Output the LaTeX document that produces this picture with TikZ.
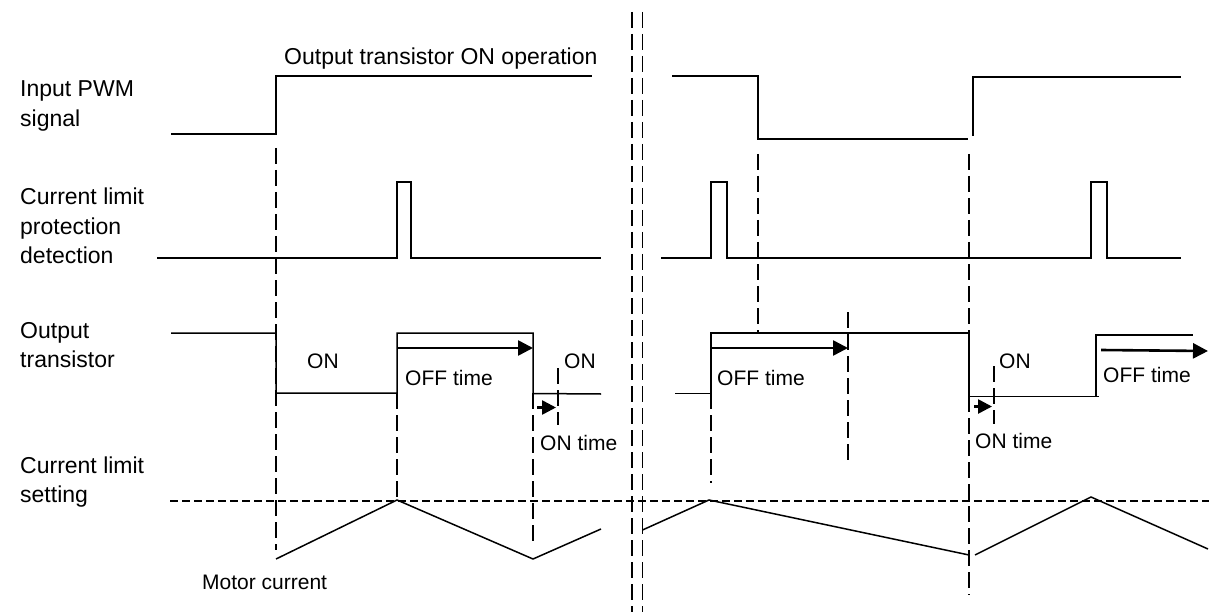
\documentclass[tikz,border=0pt]{standalone}
\usepackage{fontspec}
\setmainfont{Liberation Sans}
\usepackage{tikz}
\usetikzlibrary{arrows.meta}
\tikzset{
  sigline/.style={line width=1.5pt},
  guideline/.style={line width=1.5pt,dash pattern=on 16pt off 6pt},
  limitline/.style={line width=1.4pt,dash pattern=on 8pt off 4pt},
  timearrow/.style={line width=2.6pt,-{Triangle[length=15pt,width=15pt]}},
  shortarrow/.style={line width=2.6pt,-{Triangle[length=14pt,width=14pt]}},
  biglabel/.style={anchor=west,inner sep=0pt,align=left,font=\fontsize{23}{29.5}\selectfont},
  smalllabel/.style={anchor=west,inner sep=0pt,font=\fontsize{21}{25}\selectfont}
}
\begin{document}
\begin{tikzpicture}[x=1pt,y=1pt,yscale=-1,xscale=1]
	\useasboundingbox (0,0) rectangle (1209,612);

	%Break Lines
	\draw [guideline] (632,12) -- (632,612) ;
	\draw [guideline] (642.5,12) -- (642.5,612) ;

	%Input PWM signal
	\draw [sigline] (171,134) -- (276,134) -- (276,76) -- (592,76) ;
	\draw [sigline] (672,76) -- (758,76) -- (758,139) -- (968,139) ;
	\draw [sigline] (973,136) -- (973,77) -- (1181,77) ;

	%Current limit protection detection
	\draw [sigline] (157,258) -- (397,258) -- (397,182) -- (411,182) -- (411,258) -- (601,258) ;
	\draw [sigline] (661,258) -- (711,258) -- (711,182) -- (727,182) -- (727,258) -- (1091,258) -- (1091,182) -- (1107,182) -- (1107,258) -- (1181,258) ;

	%Output transistor
	\draw [sigline] (171,333) -- (276,333) -- (276,393) -- (397,393) -- (397,333) -- (533,333) -- (533,393.5) -- (601,394) ;
	\draw [sigline] (675,393.5) -- (711,393.5) -- (711,333) -- (969,333) -- (969,396.5) -- (1099,396.5) ;
	\draw [sigline] (1096,396.5) -- (1096,335) -- (1193,335) ;

	%Time Arrows
	\draw [timearrow] (397,348) -- (533,348) ;
	\draw [shortarrow] (537,407.5) -- (556,407.5) ;
	\draw [timearrow] (711,348) -- (848,348) ;
	\draw [shortarrow] (974,406.5) -- (992,406.5) ;
	\draw [timearrow] (1101,350) -- (1208,351) ;

	%Guide Lines
	\draw [guideline] (276,148) -- (276,550) ;
	\draw [guideline] (397,393) -- (397,500) ;
	\draw [guideline] (533,393) -- (533,542) ;
	\draw [guideline] (558,368) -- (558,425) ;
	\draw [guideline] (758,154) -- (758,333) ;
	\draw [guideline] (711,393) -- (711,483) ;
	\draw [guideline] (848,312) -- (848,460) ;
	\draw [guideline] (969,154) -- (969,595) ;
	\draw [guideline] (994,366) -- (994,424) ;

	%Current limit level
	\draw [limitline] (170,501) -- (1209,501) ;

	%Motor current
	\draw [sigline] (276,559) -- (397,500) -- (533,559) -- (601,529) ;
	\draw [sigline] (642.5,530) -- (709,500) -- (969,555) ;
	\draw [sigline] (975,555) -- (1091,497) -- (1208,549) ;

	% Text Node
	\draw (284,59) node (topnote) [biglabel] {Output transistor ON operation};
	% Text Node
	\draw (20,106) node (inputlabel) [biglabel] {Input PWM\\signal};
	% Text Node
	\draw (20,226) node (detectlabel) [biglabel] {Current limit\\protection\\detection};
	% Text Node
	\draw (20,345) node (outputlabel) [biglabel] {Output\\transistor};
	% Text Node
	\draw (20,482) node (limitlabel) [biglabel] {Current limit\\setting};
	% Text Node
	\draw (202,582) node (motorlabel) [smalllabel] {Motor current};
	% Text Node
	\draw (307,361) node (onleft) [smalllabel] {ON};
	% Text Node
	\draw (405,378) node (offleft) [smalllabel] {OFF time};
	% Text Node
	\draw (564,361) node (onshort) [smalllabel] {ON};
	% Text Node
	\draw (540,443) node (ontimeleft) [smalllabel] {ON time};
	% Text Node
	\draw (717,378) node (offmid) [smalllabel] {OFF time};
	% Text Node
	\draw (999,361) node (onright) [smalllabel] {ON};
	% Text Node
	\draw (975,441) node (ontimeright) [smalllabel] {ON time};
	% Text Node
	\draw (1103,375) node (offright) [smalllabel] {OFF time};

\end{tikzpicture}
\end{document}
